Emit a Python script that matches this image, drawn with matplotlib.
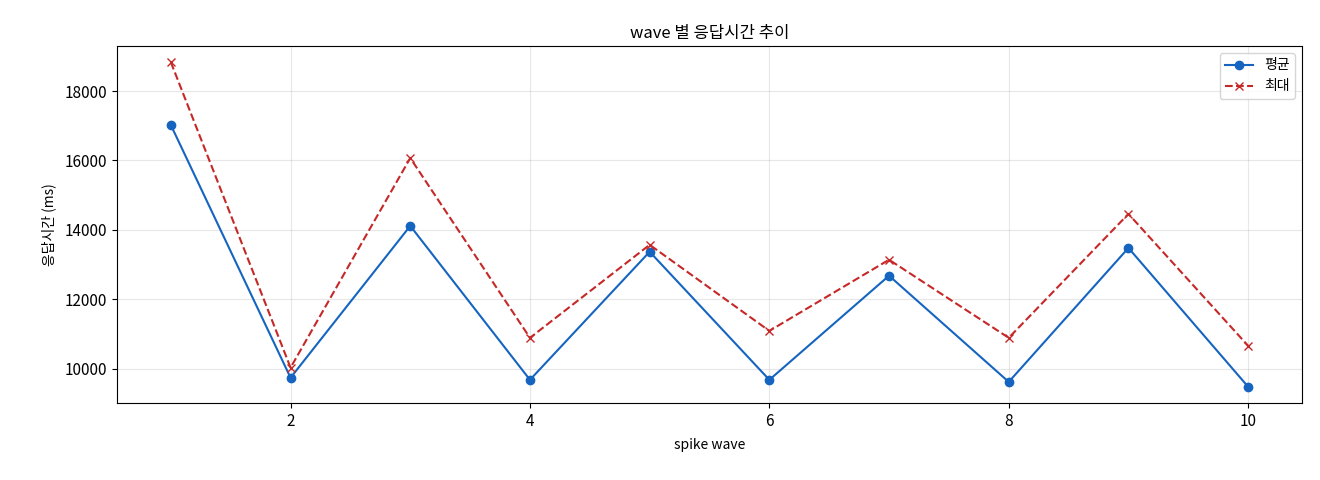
import matplotlib
matplotlib.use("Agg")
import matplotlib.pyplot as plt

plt.rcParams['font.family'] = ['Noto Sans CJK KR', 'DejaVu Sans']
plt.rcParams['axes.unicode_minus'] = False

waves = [1, 2, 3, 4, 5, 6, 7, 8, 9, 10]
avg_ms = [17020, 9740, 14115, 9680, 13370, 9680, 12680, 9620, 13480, 9480]
max_ms = [18830, 10030, 16070, 10890, 13570, 11090, 13140, 10890, 14460, 10660]

fig = plt.figure(figsize=(13.2, 4.8), dpi=100)
ax = fig.add_axes([117/1320, 1-403/480, (1302-117)/1320, (403-46)/480])
ax.plot(waves, avg_ms, marker='o', color='#1565C0', label='평균', markersize=6)
ax.plot(waves, max_ms, marker='x', linestyle='--', color='#C62828', label='최대', markersize=6)
ax.set_title('wave 별 응답시간 추이', fontsize=12)
ax.set_xlabel('spike wave', fontsize=10, labelpad=6)
ax.set_ylabel('응답시간 (ms)', fontsize=10, labelpad=6)
ax.tick_params(labelsize=11)
ax.grid(True, alpha=0.3)
ax.legend(loc='upper right')
fig.savefig('out.png', dpi=100)
